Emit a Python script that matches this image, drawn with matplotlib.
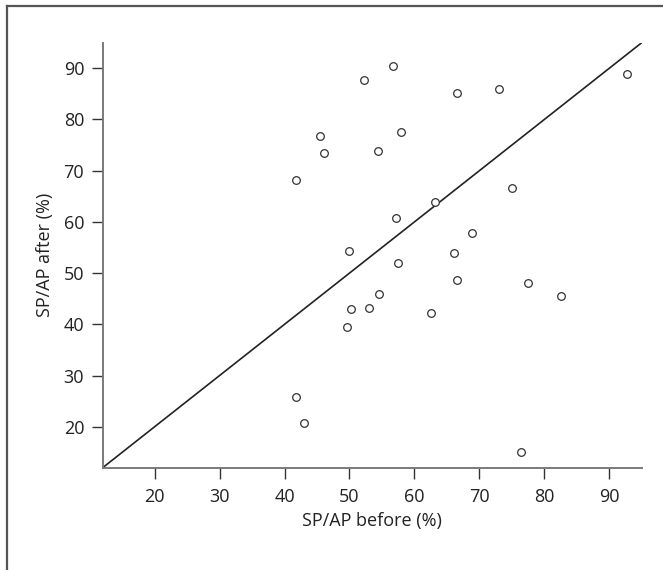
import matplotlib
matplotlib.use("Agg")
import matplotlib.pyplot as plt
from matplotlib.lines import Line2D

plt.rcParams['font.family'] = ['Open Sans', 'DejaVu Sans']

before = [43.0, 41.7, 76.4, 49.6, 50.2, 53.0, 54.5, 49.9, 68.8, 66.1, 57.4, 66.5,
          77.5, 82.5, 62.5, 63.1, 75.0, 57.1, 52.2, 56.7, 66.6, 73.0, 92.8, 57.9,
          54.4, 45.5, 46.1, 41.8]
after = [20.7, 25.8, 15.0, 39.4, 43.0, 43.1, 46.0, 54.4, 57.8, 53.9, 51.9, 48.7,
         48.0, 45.5, 42.3, 63.9, 66.7, 60.8, 87.8, 90.5, 85.2, 86.0, 88.8, 77.6,
         73.9, 76.8, 73.4, 68.2]
ticks = [20, 30, 40, 50, 60, 70, 80, 90]
lims = [12, 95]

fig = plt.figure(figsize=(6.63, 5.70), dpi=100)
ax = fig.add_axes([0.1549, 0.1795, 0.8130, 0.7456])

ax.plot(lims, lims, color='#222222', lw=1.2, solid_capstyle='butt')
ax.plot(before, after, linestyle='none', marker='o', markersize=5.5,
        markerfacecolor='white', markeredgecolor='#333333', markeredgewidth=0.9)

ax.set_xlim(lims)
ax.set_ylim(lims)
ax.set_xticks(ticks)
ax.set_yticks(ticks)
for s in ['top', 'right']:
    ax.spines[s].set_visible(False)
for s in ['left', 'bottom']:
    ax.spines[s].set_color('#7a7a7a')
    ax.spines[s].set_linewidth(1.4)
ax.tick_params(axis='both', direction='out', length=7.8, width=1.0, color='#333333',
               labelsize=13, labelcolor='#222222')
ax.tick_params(axis='x', pad=7)
ax.tick_params(axis='y', pad=5.5)
ax.set_xlabel('SP/AP before (%)', fontsize=13, color='#222222', labelpad=4)
ax.set_ylabel('SP/AP after (%)', fontsize=13, color='#222222', labelpad=7)

# figure frame (left and top edges)
fig.add_artist(Line2D([6.7/663, 6.7/663], [0, 1 - 5.5/570], transform=fig.transFigure,
                      color='#555555', lw=1.6))
fig.add_artist(Line2D([6.7/663, 1], [1 - 5.5/570, 1 - 5.5/570], transform=fig.transFigure,
                      color='#555555', lw=1.6))

fig.savefig('out.png', dpi=100)
